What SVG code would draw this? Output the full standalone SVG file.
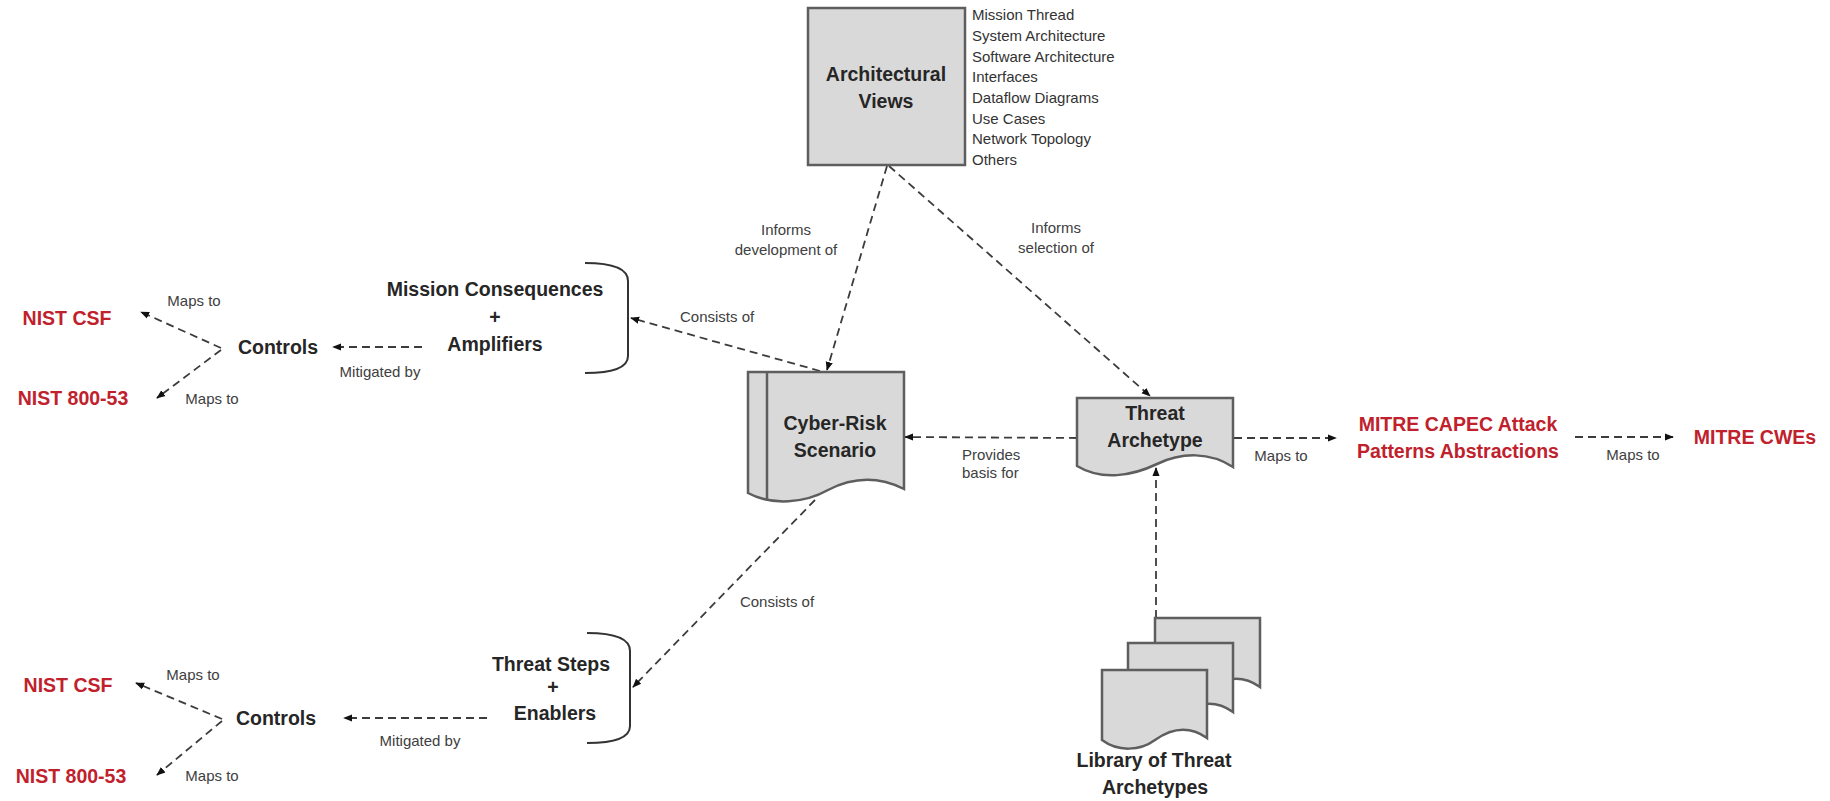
<svg xmlns="http://www.w3.org/2000/svg" width="1830" height="801" viewBox="0 0 1830 801">
  <style>
    .box { fill: #d9d9d9; stroke: #5e5e5e; stroke-width: 2.5; }
    .inner { fill: none; stroke: #5e5e5e; stroke-width: 2.5; }
    .brace { fill: none; stroke: #333; stroke-width: 2; }
    .dash { fill: none; stroke: #3c3c3c; stroke-width: 1.8; stroke-dasharray: 8 5; marker-end: url(#arr); }
    .title { font-family: "Liberation Sans", Arial, sans-serif; font-weight: bold; font-size: 19.5px; fill: #262626; text-anchor: middle; }
    .red { font-family: "Liberation Sans", Arial, sans-serif; font-weight: bold; font-size: 19.5px; fill: #c0212c; text-anchor: middle; }
    .lbl { font-family: "Liberation Sans", Arial, sans-serif; font-size: 15px; fill: #404040; }
    .mid { text-anchor: middle; }
    .list { font-family: "Liberation Sans", Arial, sans-serif; font-size: 15px; fill: #333; }
  </style>
  <defs>
    <marker id="arr" viewBox="0 0 10 10" refX="9" refY="5" markerWidth="9" markerHeight="9" markerUnits="userSpaceOnUse" orient="auto">
      <path d="M0,1 L10,5 L0,9 Z" fill="#111"/>
    </marker>
  </defs>

  <rect width="1830" height="801" fill="#fff"/>

  <!-- connectors -->
  <g id="connectors">
    <line class="dash" x1="887" y1="166" x2="827" y2="370"/>
    <line class="dash" x1="889" y1="166" x2="1150" y2="396"/>
    <line class="dash" x1="820" y1="371" x2="631" y2="318"/>
    <line class="dash" x1="1077" y1="438" x2="905" y2="437"/>
    <line class="dash" x1="1234" y1="438" x2="1336" y2="438"/>
    <line class="dash" x1="1575" y1="437" x2="1673" y2="437"/>
    <line class="dash" x1="1156" y1="618" x2="1156" y2="468"/>
    <line class="dash" x1="815" y1="500" x2="633" y2="687"/>
    <line class="dash" x1="422" y1="347" x2="333" y2="347"/>
    <line class="dash" x1="487" y1="718" x2="344" y2="718"/>
    <line class="dash" x1="221" y1="348" x2="141" y2="312"/>
    <line class="dash" x1="221" y1="350" x2="157" y2="398"/>
    <line class="dash" x1="222" y1="719" x2="136" y2="683"/>
    <line class="dash" x1="222" y1="721" x2="157" y2="775"/>
  </g>

  <!-- connector labels -->
  <g id="connector-labels">
    <text class="lbl mid" x="786" y="235">Informs</text>
    <text class="lbl mid" x="786" y="255">development of</text>
    <text class="lbl mid" x="1056" y="233">Informs</text>
    <text class="lbl mid" x="1056" y="253">selection of</text>
    <text class="lbl" x="680" y="322">Consists of</text>
    <text class="lbl" x="962" y="460">Provides</text>
    <text class="lbl" x="962" y="478">basis for</text>
    <text class="lbl mid" x="1281" y="461">Maps to</text>
    <text class="lbl mid" x="1633" y="460">Maps to</text>
    <text class="lbl mid" x="777" y="607">Consists of</text>
    <text class="lbl mid" x="380" y="377">Mitigated by</text>
    <text class="lbl mid" x="420" y="746">Mitigated by</text>
    <text class="lbl mid" x="194" y="306">Maps to</text>
    <text class="lbl mid" x="212" y="404">Maps to</text>
    <text class="lbl mid" x="193" y="680">Maps to</text>
    <text class="lbl mid" x="212" y="781">Maps to</text>
  </g>

  <!-- Architectural Views -->
  <g id="architectural-views">
    <rect class="box" x="808" y="8" width="157" height="157"/>
    <text class="title" x="886" y="81">Architectural</text>
    <text class="title" x="886" y="108">Views</text>
    <text class="list" x="972" y="20">Mission Thread</text>
    <text class="list" x="972" y="41">System Architecture</text>
    <text class="list" x="972" y="61.5">Software Architecture</text>
    <text class="list" x="972" y="82">Interfaces</text>
    <text class="list" x="972" y="103">Dataflow Diagrams</text>
    <text class="list" x="972" y="123.5">Use Cases</text>
    <text class="list" x="972" y="144">Network Topology</text>
    <text class="list" x="972" y="165">Others</text>
  </g>

  <!-- Cyber-Risk Scenario -->
  <g id="cyber-risk-scenario">
    <path class="box" d="M748,372 H904 V489 C880,477 855,476 828,490 C805,503 772,506 748,493 Z"/>
    <path class="inner" d="M767,372 V501"/>
    <text class="title" x="835" y="430">Cyber-Risk</text>
    <text class="title" x="835" y="457">Scenario</text>
  </g>

  <!-- Threat Archetype -->
  <g id="threat-archetype">
    <path class="box" d="M1077,398 H1233 V467 C1210,452 1182,452 1157,464 C1132,476 1102,481 1077,466 Z"/>
    <text class="title" x="1155" y="420">Threat</text>
    <text class="title" x="1155" y="447">Archetype</text>
  </g>

  <!-- Library of Threat Archetypes -->
  <g id="threat-library">
    <path class="box" d="M1155,618 H1260 V687 C1243,675 1225,677 1208,689 C1193,700 1171,701 1155,689 Z"/>
    <path class="box" d="M1128,643 H1233 V712 C1216,700 1198,702 1181,714 C1166,725 1144,726 1128,714 Z"/>
    <path class="box" d="M1102,670 H1207 V738 C1190,726 1172,728 1155,740 C1140,751 1118,752 1102,740 Z"/>
    <text class="title" x="1154" y="767">Library of Threat</text>
    <text class="title" x="1155" y="794">Archetypes</text>
  </g>

  <!-- Mission Consequences + Amplifiers -->
  <g id="mission-consequences">
    <path class="brace" d="M585,263 Q628,263 628,281 V356 Q628,373 585,373"/>
    <text class="title" x="495" y="296">Mission Consequences</text>
    <text class="title" x="495" y="324">+</text>
    <text class="title" x="495" y="351">Amplifiers</text>
  </g>

  <!-- Threat Steps + Enablers -->
  <g id="threat-steps">
    <path class="brace" d="M587,633 Q630,633 630,651 V726 Q630,743 587,743"/>
    <text class="title" x="551" y="671">Threat Steps</text>
    <text class="title" x="553" y="694">+</text>
    <text class="title" x="555" y="720">Enablers</text>
  </g>

  <!-- Controls (upper) -->
  <g id="controls-upper">
    <text class="title" x="278" y="354">Controls</text>
  </g>
  <g id="nist-csf-upper">
    <text class="red" x="67" y="325">NIST CSF</text>
  </g>
  <g id="nist-80053-upper">
    <text class="red" x="73" y="405">NIST 800-53</text>
  </g>

  <!-- Controls (lower) -->
  <g id="controls-lower">
    <text class="title" x="276" y="725">Controls</text>
  </g>
  <g id="nist-csf-lower">
    <text class="red" x="68" y="692">NIST CSF</text>
  </g>
  <g id="nist-80053-lower">
    <text class="red" x="71" y="783">NIST 800-53</text>
  </g>

  <!-- MITRE references -->
  <g id="mitre-capec">
    <text class="red" x="1458" y="431">MITRE CAPEC Attack</text>
    <text class="red" x="1458" y="458">Patterns Abstractions</text>
  </g>
  <g id="mitre-cwes">
    <text class="red" x="1755" y="444">MITRE CWEs</text>
  </g>
</svg>
